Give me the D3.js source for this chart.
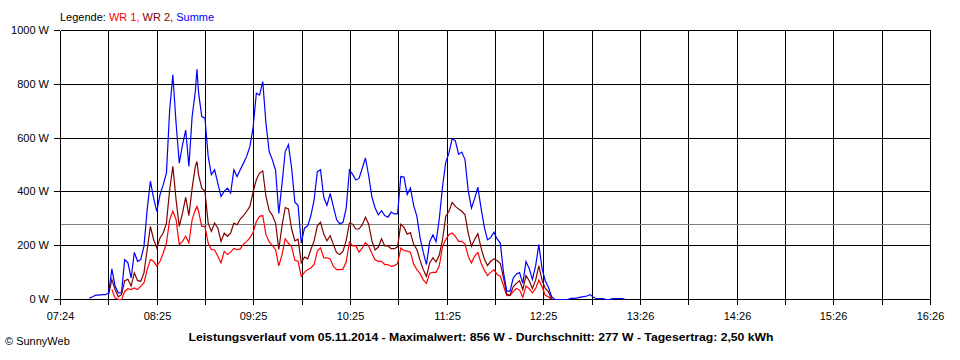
<!DOCTYPE html>
<html>
<head>
<meta charset="utf-8">
<script src="https://cdn.jsdelivr.net/npm/d3@7"></script>
<style>
  html, body { margin: 0; padding: 0; background: #fff; }
  svg { display: block; }
  text { font-family: "Liberation Sans", Arial, sans-serif; font-size: 11px; fill: #000; }
</style>
</head>
<body>
<svg id="chart" width="960" height="360"></svg>
<script>
// ---- Data ----
const xTickLabels = ["07:24","08:25","09:25","10:25","11:25","12:25","13:26","14:26","15:26","16:26"];
const yTickValues = [0, 200, 400, 600, 800, 1000];
const average = 277;
const legendItems = ["WR 1", "WR 2", "Summe"];
const titleText = "Leistungsverlauf vom 05.11.2014 - Maximalwert: 856 W - Durchschnitt: 277 W - Tagesertrag: 2,50 kWh";
const copyrightText = "\u00A9 SunnyWeb";

const times = [
 "07:42","07:44","07:46","07:48","07:50","07:52","07:54","07:56","07:58","08:00",
 "08:02","08:04","08:06","08:08","08:10","08:12","08:14","08:16","08:18","08:20",
 "08:22","08:24","08:26","08:28","08:30","08:32","08:34","08:36","08:38","08:40",
 "08:42","08:44","08:46","08:48","08:49","08:50","08:52","08:54","08:56","08:58",
 "09:00","09:02","09:04","09:06","09:08","09:10","09:12","09:14","09:16","09:18",
 "09:20","09:22","09:24","09:26","09:28","09:30","09:32","09:34","09:36","09:38",
 "09:40","09:42","09:44","09:46","09:48","09:50","09:52","09:54","09:56","09:58",
 "10:00","10:02","10:04","10:06","10:08","10:10","10:12","10:14","10:16","10:18",
 "10:20","10:22","10:24","10:26","10:28","10:30","10:32","10:34","10:36","10:38",
 "10:40","10:42","10:44","10:46","10:48","10:50","10:52","10:54","10:56","10:58",
 "11:00","11:02","11:04","11:06","11:08","11:10","11:12","11:14","11:16","11:18",
 "11:20","11:22","11:24","11:26","11:28","11:30","11:32","11:34","11:36","11:38",
 "11:40","11:42","11:44","11:46","11:48","11:50","11:52","11:54","11:56","11:58",
 "12:00","12:02","12:04","12:06","12:08","12:10","12:12","12:14","12:16","12:18",
 "12:20","12:22","12:24","12:26","12:28","12:30","12:32","12:34","12:36","12:38",
 "12:40","12:42","12:44","12:46","12:48","12:50","12:52","12:54","12:56","12:58",
 "13:00","13:02","13:04","13:06","13:08","13:10","13:12","13:14","13:16"
];

const summe = [
 5,10,16,16,18,18,25,114,50,25,
 25,148,136,80,175,142,148,198,334,440,
 377,328,390,427,470,705,835,655,507,575,
 630,495,680,773,856,770,680,674,532,464,
 482,433,383,402,414,396,482,457,482,507,
 532,569,640,767,760,810,655,550,519,480,
 320,430,550,576,488,362,350,210,265,274,
 312,370,475,482,380,350,394,345,297,281,
 287,340,482,465,444,450,488,526,460,381,
 340,315,330,312,306,325,318,318,457,455,
 390,415,350,310,230,175,130,215,240,215,
 300,420,510,545,598,590,540,548,520,405,
 340,375,418,340,270,222,230,250,225,210,
 100,32,30,79,95,100,60,141,115,75,
 125,204,115,70,45,10,0,0,0,0,
 0,4,4,6,9,11,13,18,8,3,
 3,3,0,0,3,3,3,3,0
];

const wr2 = [
 null,null,null,null,null,null,20,74,37,10,
 18,70,75,50,99,70,68,99,185,272,
 223,192,229,247,284,408,495,371,272,321,
 380,312,414,495,513,464,414,402,284,253,
 284,266,216,247,235,247,284,278,299,312,
 328,346,400,445,470,478,383,331,313,284,
 186,274,342,337,262,218,224,136,158,151,
 186,218,274,287,243,218,237,205,174,167,
 180,220,284,280,262,262,278,306,280,218,
 184,195,226,199,199,189,189,196,280,268,
 243,249,205,186,146,111,86,136,155,140,
 165,223,309,328,361,346,336,328,315,247,
 198,223,245,192,151,126,142,151,145,134,
 80,20,15,47,60,70,37,89,70,41,
 72,125,72,41,29,0,null,null,null,null,
 null,null,null,null,null,null,null,null,null,null,
 null,null,null,null,null,null,null,null,null
];

const wr1 = [
 null,null,null,null,null,null,null,37,6,0,
 0,30,40,37,43,37,50,62,111,148,
 142,124,142,173,210,297,328,297,204,216,
 235,210,297,334,346,328,272,272,210,185,
 185,161,136,179,167,176,190,185,188,206,
 216,229,250,290,309,312,241,214,200,185,
 125,167,226,209,196,146,142,86,101,111,
 117,130,180,192,155,155,151,123,111,111,
 113,140,214,199,199,176,192,211,199,171,
 148,142,142,130,130,123,126,133,191,182,
 180,176,132,111,96,73,60,98,101,101,
 125,198,223,241,247,235,216,216,206,161,
 136,161,175,136,109,89,101,111,93,87,
 50,14,15,29,41,35,8,50,40,25,
 41,72,47,16,10,0,null,null,null,null,
 null,null,null,null,null,null,null,null,null,null,
 null,null,null,null,null,null,null,null,null
];

// ---- Chart ----
const toMin = s => { const p = s.split(":"); return +p[0] * 60 + +p[1]; };
const svg = d3.select("#chart");

const x = d3.scaleLinear()
  .domain([toMin(xTickLabels[0]), toMin(xTickLabels[xTickLabels.length - 1])])
  .range([60, 930]);
const y = d3.scaleLinear().domain([0, 1000]).range([299, 30]);

const nGrid = (xTickLabels.length - 1) * 2;
const gridVals = d3.range(nGrid + 1).map(i => x.domain()[0] + i * (x.domain()[1] - x.domain()[0]) / nGrid);

// grid
const grid = svg.append("g").attr("shape-rendering", "crispEdges");
grid.selectAll("line.v").data(gridVals).join("line")
  .attr("x1", d => Math.round(x(d)) + 0.5).attr("x2", d => Math.round(x(d)) + 0.5)
  .attr("y1", y(1000) + 0.5).attr("y2", y(0) + 0.5)
  .attr("stroke", "#000").attr("stroke-width", 1);
grid.selectAll("line.h").data(yTickValues).join("line")
  .attr("x1", x.range()[0] + 0.5).attr("x2", x.range()[1] + 0.5)
  .attr("y1", d => y(d) + 0.5).attr("y2", d => y(d) + 0.5)
  .attr("stroke", "#000").attr("stroke-width", 1);

// average line
svg.append("line")
  .attr("x1", x.range()[0] + 1).attr("x2", x.range()[1])
  .attr("y1", Math.round(y(average)) + 0.5).attr("y2", Math.round(y(average)) + 0.5)
  .attr("stroke", "#808080").attr("stroke-width", 1).attr("shape-rendering", "crispEdges");

// axes
const xAxis = d3.axisBottom(x)
  .tickValues(gridVals.map(v => x.invert(Math.round(x(v)))))
  .tickSize(6).tickSizeOuter(0).tickPadding(7)
  .tickFormat((d, i) => i % 2 === 0 ? xTickLabels[i / 2] : "");
const gx = svg.append("g").attr("transform", `translate(0,${y(0)})`).call(xAxis);
const yAxis = d3.axisLeft(y).tickValues(yTickValues).tickSize(6).tickSizeOuter(0).tickPadding(5)
  .tickFormat(d => d + " W");
const gy = svg.append("g").attr("transform", `translate(${x.range()[0]},0)`).call(yAxis);
[gx, gy].forEach(g => {
  g.attr("shape-rendering", "crispEdges");
  g.selectAll("path.domain").attr("stroke", "#000");
  g.selectAll(".tick line").attr("stroke", "#000");
  g.selectAll("text").attr("font-family", "Liberation Sans, Arial, sans-serif").attr("font-size", 11).attr("fill", "#000");
});

// series
const series = [
  { name: legendItems[0], values: wr1, color: "#ff0000" },
  { name: legendItems[1], values: wr2, color: "#800000" },
  { name: legendItems[2], values: summe, color: "#0000ff" }
];
const line = d3.line()
  .defined(d => d.v !== null && d.v !== undefined)
  .x(d => x(toMin(d.t)) + 0.5)
  .y(d => y(d.v) + 0.5)
  .curve(d3.curveLinear);
series.forEach(s => {
  svg.append("path")
    .datum(times.map((t, i) => ({ t, v: s.values[i] })))
    .attr("d", line)
    .attr("fill", "none")
    .attr("stroke", s.color)
    .attr("stroke-width", 1.2)
    .attr("stroke-linejoin", "miter");
});

// legend
const leg = svg.append("text").attr("x", 60).attr("y", 21);
leg.append("tspan").text("Legende: ");
series.forEach((s, i) => {
  leg.append("tspan").attr("fill", s.color).text(s.name + (i < series.length - 1 ? ", " : ""));
});

// title & copyright
svg.append("text").attr("x", 481).attr("y", 341).attr("text-anchor", "middle")
  .attr("font-weight", "bold").attr("font-size", 12)
  .attr("textLength", 585).attr("lengthAdjust", "spacingAndGlyphs")
  .text(titleText);
svg.append("text").attr("x", 5).attr("y", 345).attr("font-size", 11).text(copyrightText);
</script>
</body>
</html>
